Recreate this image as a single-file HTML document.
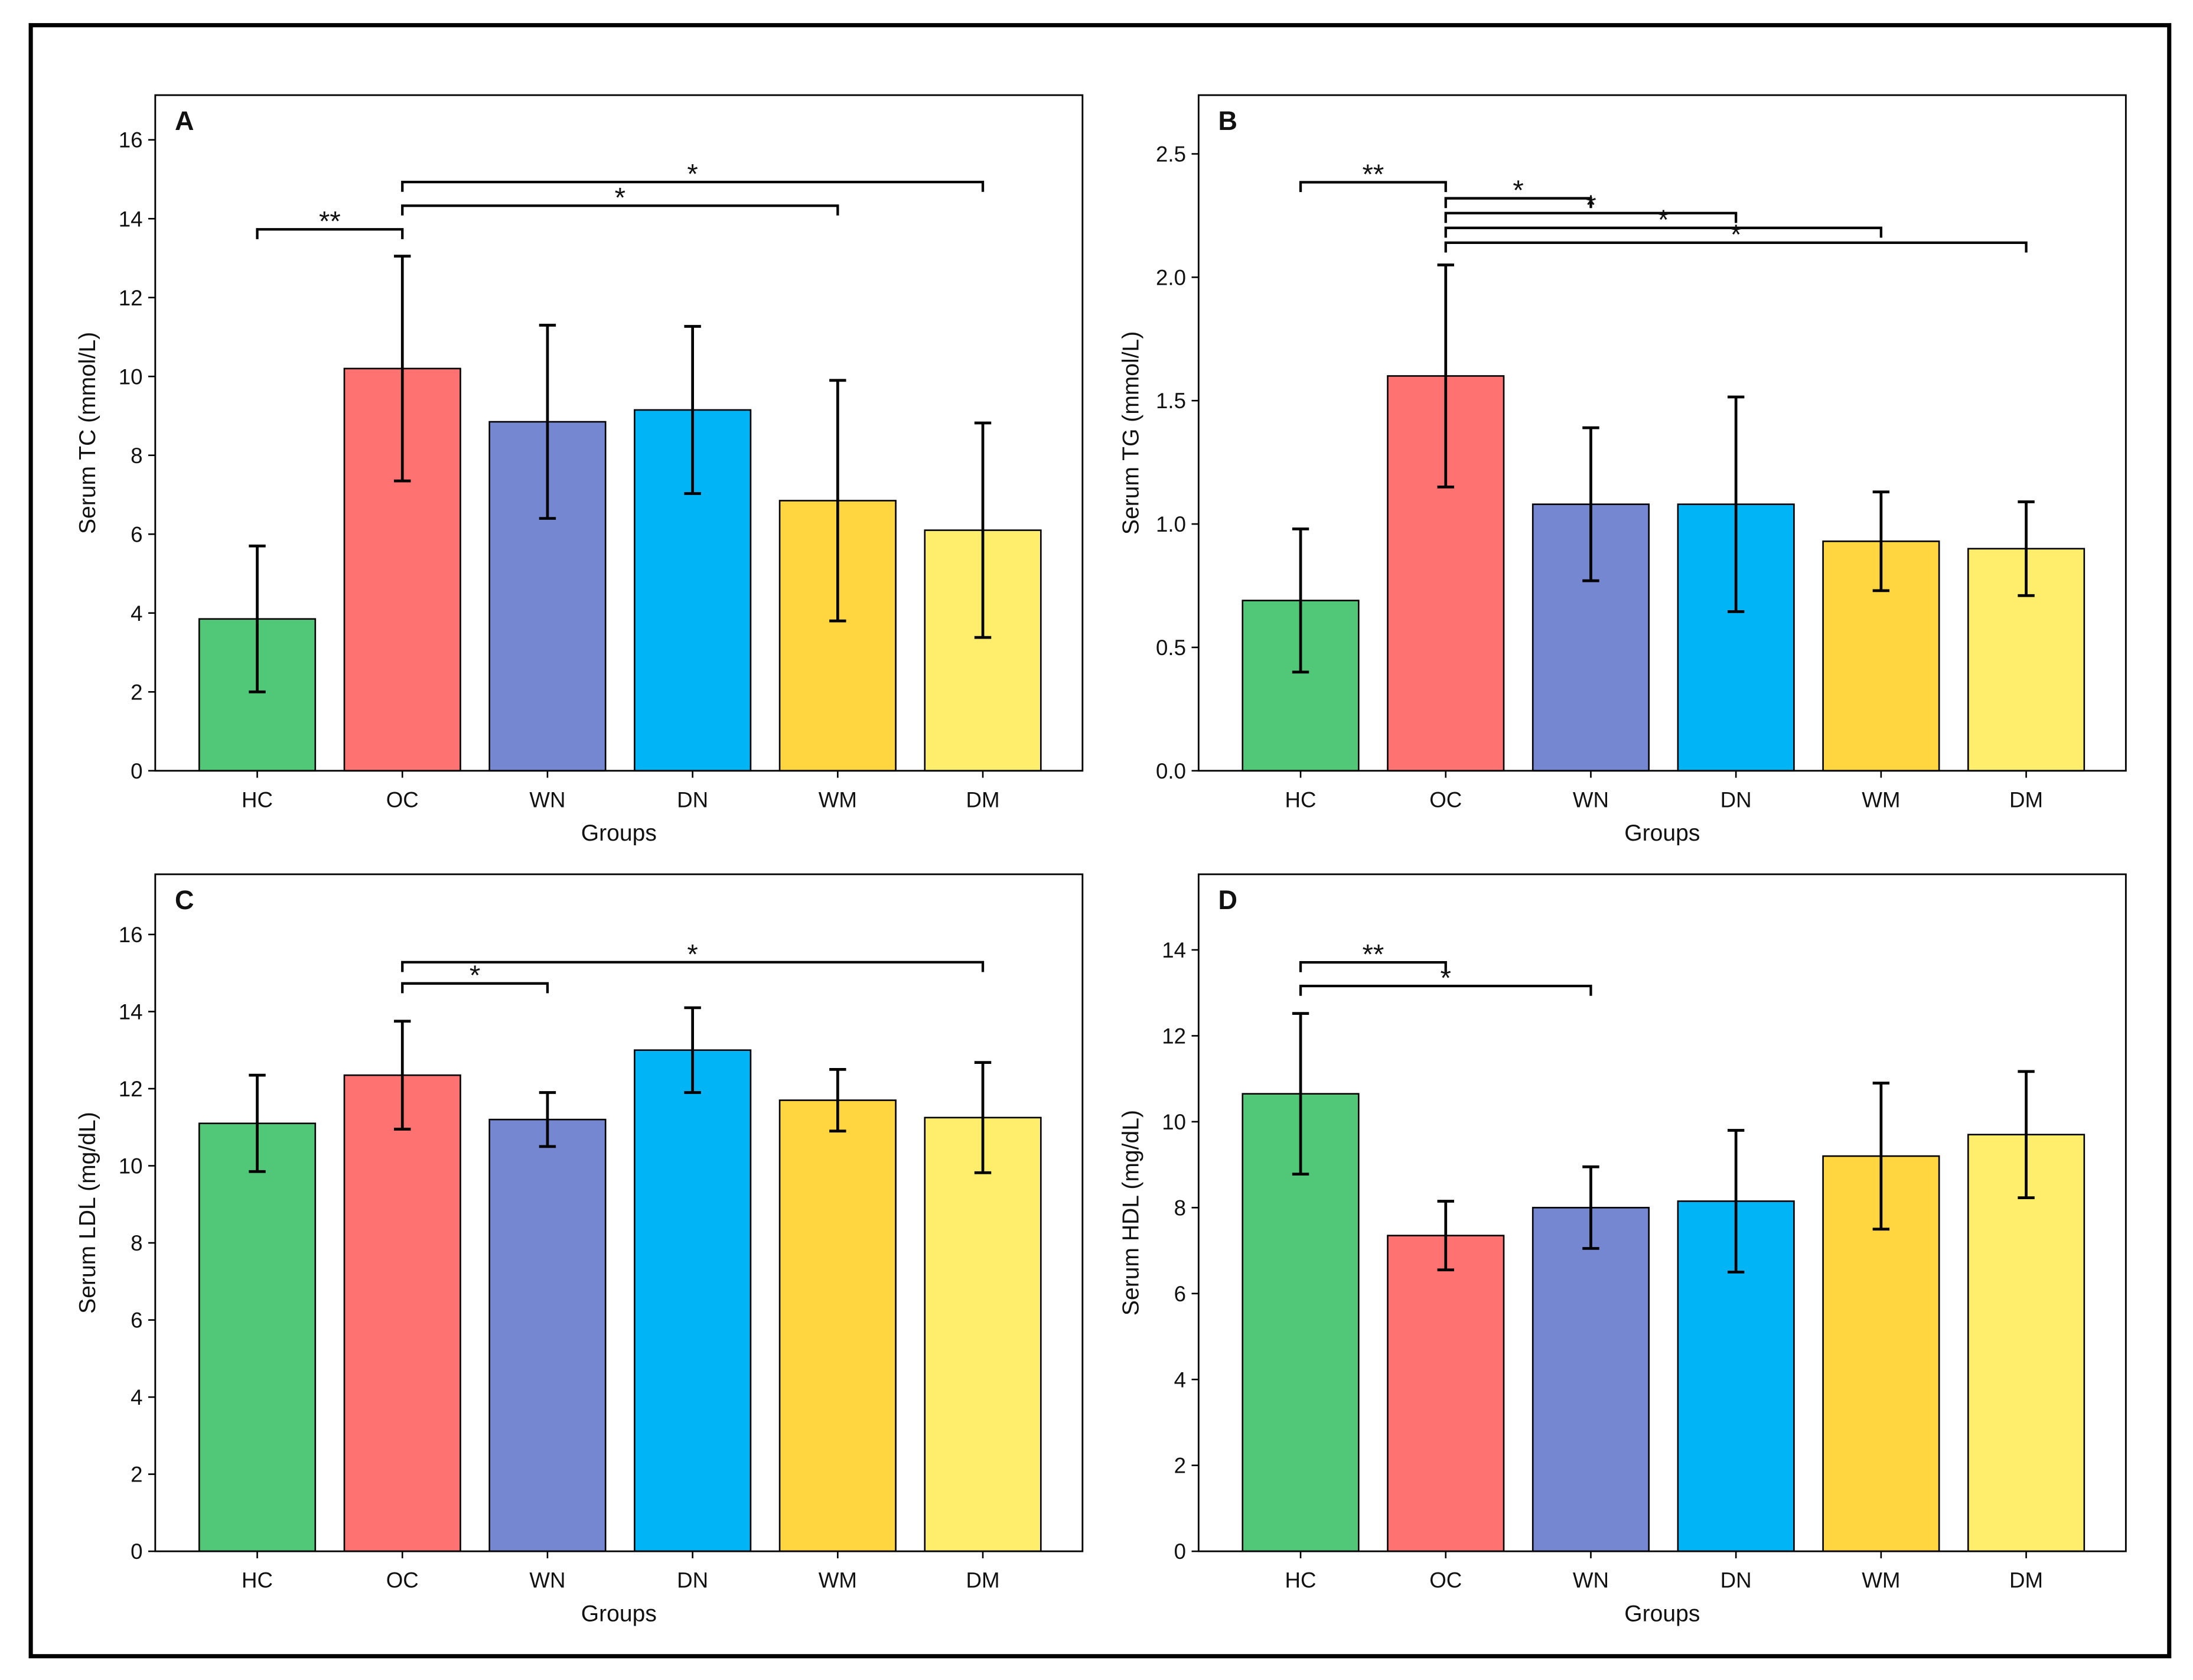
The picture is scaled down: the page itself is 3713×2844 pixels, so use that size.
<!DOCTYPE html>
<html><head><meta charset="utf-8"><style>
html,body{margin:0;padding:0;background:#fff;}
svg{display:block;}
text{font-family:"Liberation Sans","DejaVu Sans",sans-serif;fill:#111;}
</style></head>
<body>
<svg id="chart" width="3713" height="2844" viewBox="0 0 1568 1201" xmlns="http://www.w3.org/2000/svg">
<rect x="0" y="0" width="1568" height="1201" fill="#fff"/>
<rect x="22" y="18" width="1529" height="1166" fill="none" stroke="#000" stroke-width="3"/>
</svg>
<script>
const categories = ["HC","OC","WN","DN","WM","DM"];
const colors = ["#50C878","#FF7272","#7587D0","#00B4F5","#FFD640","#FFEE6B"];
const tcValues = [3.85,10.2,8.85,9.15,6.85,6.1];
const tcErr = [1.85,2.85,2.45,2.12,3.05,2.72];
const tcTicks = [0,2,4,6,8,10,12,14,16];
const tgValues = [0.69,1.6,1.08,1.08,0.93,0.9];
const tgErr = [0.29,0.45,0.31,0.435,0.2,0.19];
const tgTicks = [0.0,0.5,1.0,1.5,2.0,2.5];
const ldlValues = [11.1,12.35,11.2,13.0,11.7,11.25];
const ldlErr = [1.25,1.4,0.7,1.1,0.8,1.43];
const ldlTicks = [0,2,4,6,8,10,12,14,16];
const hdlValues = [10.65,7.35,8.0,8.15,9.2,9.7];
const hdlErr = [1.87,0.8,0.95,1.65,1.7,1.47];
const hdlTicks = [0,2,4,6,8,10,12,14];
const tcBrackets = [[0,1,13.73,"**"],[1,4,14.33,"*"],[1,5,14.93,"*"]];
const tgBrackets = [[0,1,2.385,"**"],[1,2,2.32,"*"],[1,3,2.26,"*"],[1,4,2.2,"*"],[1,5,2.14,"*"]];
const ldlBrackets = [[1,2,14.73,"*"],[1,5,15.28,"*"]];
const hdlBrackets = [[0,1,13.71,"**"],[0,2,13.16,"*"]];

const svg = document.getElementById('chart');
const NS = "http://www.w3.org/2000/svg";
function el(tag, attrs, parent){const e=document.createElementNS(NS,tag);for(const k in attrs)e.setAttribute(k,attrs[k]);(parent||svg).appendChild(e);return e;}

function panel(opt){
  const g = el('g',{});
  
  
  const {x0,x1,yTop,yBot,pxPerUnit} = opt;
  const y = v => yBot - v*pxPerUnit;
  const xc = i => x0 + (x1-x0)*0.11 + i*(x1-x0)*0.1565;
  const bw = 83;
  opt.values.forEach((v,i)=>{
    const r = el('rect',{x:xc(i)-bw/2,y:y(v),width:bw,height:y(0)-y(v),fill:colors[i],stroke:"#000","stroke-width":1.1},g);
    
    
  });
  opt.values.forEach((v,i)=>{
    const e=opt.err[i];
    const eg = el('g',{stroke:"#000","stroke-width":2},g);
    
    
    el('line',{x1:xc(i),x2:xc(i),y1:y(v-e),y2:y(v+e)},eg);
    el('line',{x1:xc(i)-6,x2:xc(i)+6,y1:y(v-e),y2:y(v-e)},eg);
    el('line',{x1:xc(i)-6,x2:xc(i)+6,y1:y(v+e),y2:y(v+e)},eg);
  });
  const fr = el('rect',{x:x0,y:yTop,width:x1-x0,height:yBot-yTop,fill:"none",stroke:"#000","stroke-width":1.2},g);
  
  
  opt.ticks.forEach(t=>{
    el('line',{x1:x0-5,x2:x0,y1:y(t),y2:y(t),stroke:"#000","stroke-width":1.1},g);
    const tx = el('text',{x:x0-9,y:y(t)+5.5,"text-anchor":"end","font-size":15.5},g);
    tx.textContent = opt.tickFmt ? t.toFixed(1) : t;
    
    
  });
  categories.forEach((c,i)=>{
    el('line',{x1:xc(i),x2:xc(i),y1:yBot,y2:yBot+5,stroke:"#000","stroke-width":1.1},g);
    const tx = el('text',{x:xc(i),y:yBot+26,"text-anchor":"middle","font-size":15.5},g);
    tx.textContent = c;
    
    
  });
  const xl = el('text',{x:(x0+x1)/2,y:yBot+50,"text-anchor":"middle","font-size":16.5},g);
  xl.textContent = "Groups";
  
  
  const yl = el('text',{x:0,y:0,"text-anchor":"middle","font-size":16.5,transform:`translate(${x0-43},${(yTop+yBot)/2}) rotate(-90)`},g);
  yl.textContent = opt.ylabel;
  
  
  const lt = el('text',{x:x0+14,y:yTop+25,"font-size":19,"font-weight":"bold"},g);
  lt.textContent = opt.letter;
  
  
  opt.brackets.forEach(b=>{
    const [a,c,h,s]=b;
    const by=y(h);
    const bg = el('g',{},g);
    
    
    el('path',{d:`M${xc(a)},${by+7} V${by} H${xc(c)} V${by+7}`,fill:"none",stroke:"#000","stroke-width":1.8},bg);
    const st = el('text',{x:(xc(a)+xc(c))/2,y:by+1,"text-anchor":"middle","font-size":20},bg);
    st.textContent = s;
  });
}
panel({letter:"A",x0:111,x1:774,yTop:68,yBot:551,pxPerUnit:28.19,values:tcValues,err:tcErr,ticks:tcTicks,ylabel:"Serum TC (mmol/L)",brackets:tcBrackets});
panel({letter:"B",x0:857,x1:1520,yTop:68,yBot:551,pxPerUnit:176.4,values:tgValues,err:tgErr,ticks:tgTicks,tickFmt:true,ylabel:"Serum TG (mmol/L)",brackets:tgBrackets});
panel({letter:"C",x0:111,x1:774,yTop:625,yBot:1109,pxPerUnit:27.56,values:ldlValues,err:ldlErr,ticks:ldlTicks,ylabel:"Serum LDL (mg/dL)",brackets:ldlBrackets});
panel({letter:"D",x0:857,x1:1520,yTop:625,yBot:1109,pxPerUnit:30.71,values:hdlValues,err:hdlErr,ticks:hdlTicks,ylabel:"Serum HDL (mg/dL)",brackets:hdlBrackets});
</script>
</body></html>
